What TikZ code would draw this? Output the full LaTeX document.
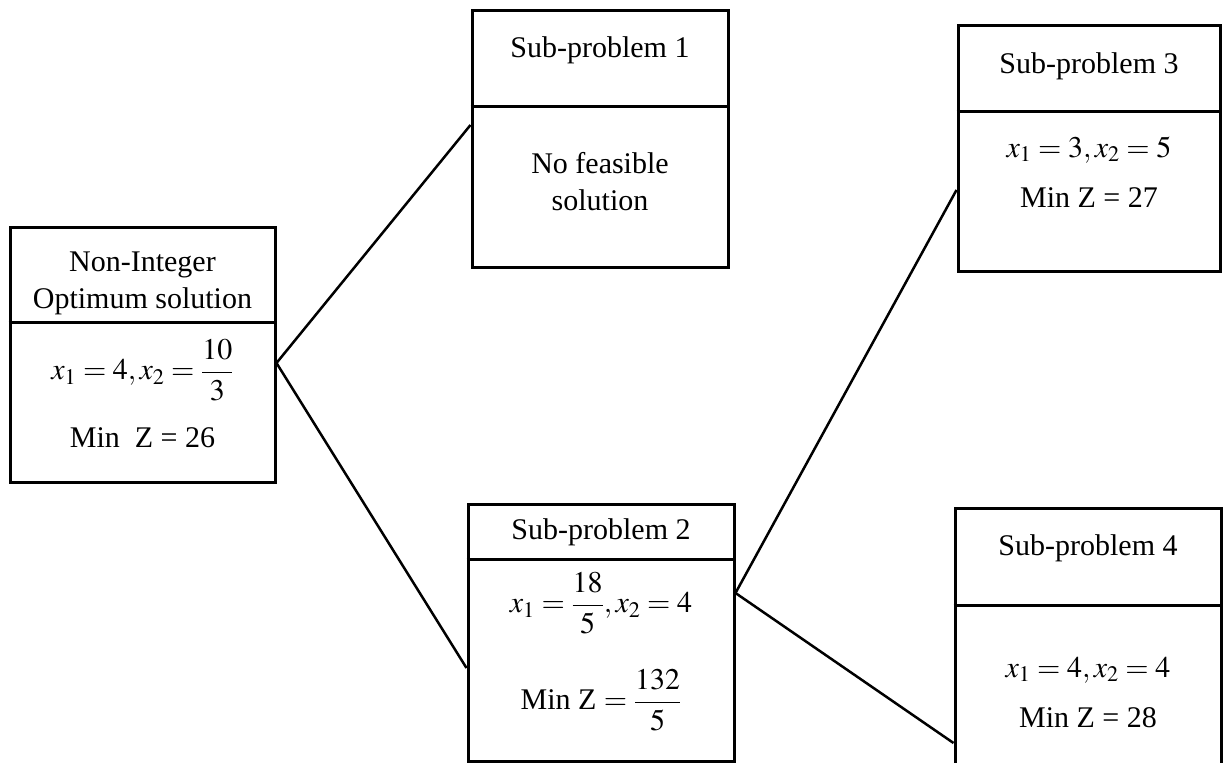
\documentclass[tikz,border=0pt]{standalone}
\usepackage{mathptmx}
\usepackage{fontspec}
\setmainfont{Liberation Serif}
\begin{document}
\begin{tikzpicture}[x=1pt,y=-1pt,
  box/.style={draw, line width=3pt, inner sep=0pt},
  div/.style={line width=3pt},
  link/.style={line width=2.5pt},
  txt/.style={align=center, inner sep=0pt, font=\fontsize{30}{37}\selectfont}]
\useasboundingbox (0,0) rectangle (1224,763);
\clip (0,0) rectangle (1224,763);
% boxes
\node[box, minimum width=265pt, minimum height=255pt] (root) at (142.5,354.5) {};
\node[box, minimum width=256pt, minimum height=257pt] (b1) at (600,138.5) {};
\node[box, minimum width=266pt, minimum height=257pt] (b2) at (601,632.5) {};
\node[box, minimum width=262pt, minimum height=246pt] (b3) at (1089,148) {};
\node[box, minimum width=266pt, minimum height=292pt] (b4) at (1088,654) {};
% dividers
\draw[div] (root.west |- 0,322) -- (root.east |- 0,322);
\draw[div] (b1.west |- 0,106) -- (b1.east |- 0,106);
\draw[div] (b2.west |- 0,559) -- (b2.east |- 0,559);
\draw[div] (b3.west |- 0,111) -- (b3.east |- 0,111);
\draw[div] (b4.west |- 0,605) -- (b4.east |- 0,605);
% texts
\node[txt] (roott) at (142.5,283) {Non-Integer\\Optimum solution};
\node[txt] (rootf) at (142.5,370) {$\displaystyle x_1 = 4, x_2 = \frac{10}{3}$};
\node[txt] (rootz) at (142.5,438) {Min\ \ Z = 26};
\node[txt] (b1t) at (600,50) {Sub-problem 1};
\node[txt] (b1b) at (600,182) {No feasible\\solution};
\node[txt] (b2t) at (601,532) {Sub-problem 2};
\node[txt] (b2f) at (601,603) {$\displaystyle x_1 = \frac{18}{5}, x_2 = 4$};
\node[txt] (b2z) at (601,700) {Min Z $\displaystyle = \frac{132}{5}$};
\node[txt] (b3t) at (1089,66) {Sub-problem 3};
\node[txt] (b3f) at (1089,150) {$x_1 = 3, x_2 = 5$};
\node[txt] (b3z) at (1089,198) {Min Z = 27};
\node[txt] (b4t) at (1088,548) {Sub-problem 4};
\node[txt] (b4f) at (1088,670) {$x_1 = 4, x_2 = 4$};
\node[txt] (b4z) at (1088,718) {Min Z = 28};
% connectors
\draw[link] (root.east |- 0,363) -- (b1.west |- 0,125);
\draw[link] (root.east |- 0,363) -- (b2.west |- 0,668);
\draw[link] (b2.east |- 0,593) -- (b3.west |- 0,190);
\draw[link] (b2.east |- 0,593) -- (b4.west |- 0,743);
\end{tikzpicture}
\end{document}
